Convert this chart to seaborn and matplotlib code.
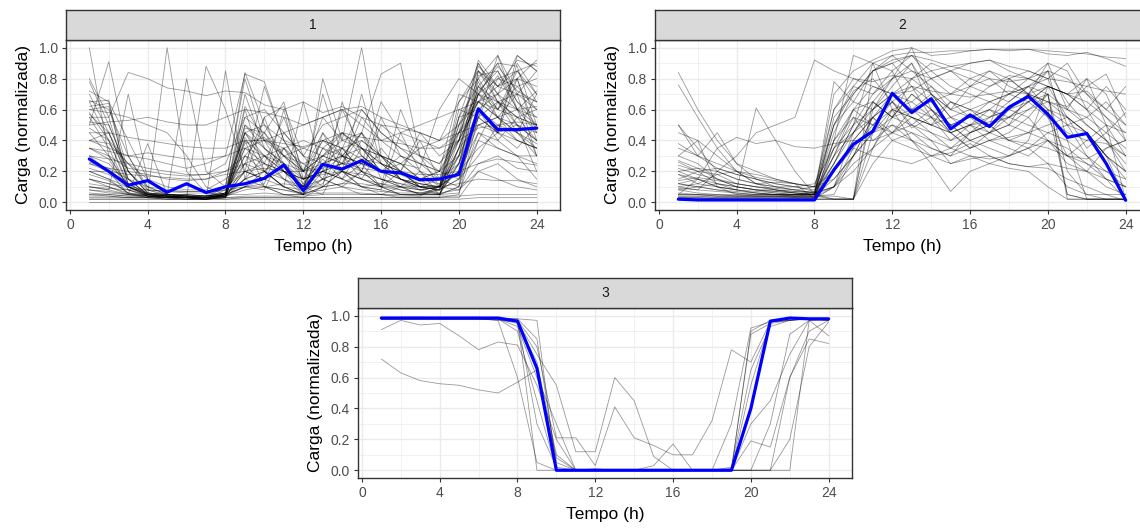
import matplotlib
matplotlib.use("Agg")
import matplotlib.pyplot as plt
import numpy as np
import pandas as pd
import seaborn as sns
from matplotlib.ticker import MultipleLocator

# ---------------- data ----------------
hours = list(range(1, 25))
x_ticks = [0, 4, 8, 12, 16, 20, 24]
y_ticks = [0.0, 0.2, 0.4, 0.6, 0.8, 1.0]
facet_labels = ["1", "2", "3"]
x_title = "Tempo (h)"
y_title = "Carga (normalizada)"

mean_1 = [0.28, 0.20, 0.11, 0.14, 0.065, 0.12, 0.063, 0.10, 0.12, 0.155, 0.24, 0.076,
          0.245, 0.215, 0.27, 0.20, 0.19, 0.145, 0.15, 0.18, 0.605, 0.47, 0.47, 0.48]
mean_2 = [0.02, 0.015, 0.015, 0.015, 0.015, 0.015, 0.015, 0.015, 0.21, 0.375, 0.46, 0.705,
          0.58, 0.67, 0.475, 0.565, 0.49, 0.615, 0.685, 0.57, 0.42, 0.445, 0.25, 0.013]
mean_3 = [0.985, 0.985, 0.985, 0.985, 0.985, 0.985, 0.985, 0.965, 0.66, 0.0, 0.0, 0.0,
          0.0, 0.0, 0.0, 0.0, 0.0, 0.0, 0.0, 0.40, 0.965, 0.985, 0.98, 0.98]

curves_1 = [
    [1.00,0.30,0.10,0.05,0.04,0.04,0.03,0.05,0.40,0.30,0.20,0.05,0.25,0.30,0.20,0.15,0.10,0.08,0.10,0.20,0.85,0.70,0.60,0.55],
    [0.65,0.66,0.10,0.04,0.03,0.03,0.02,0.05,0.45,0.30,0.15,0.05,0.20,0.15,0.35,0.20,0.15,0.10,0.05,0.30,0.75,0.60,0.80,0.45],
    [0.60,0.62,0.15,0.05,0.04,0.03,0.03,0.10,0.80,0.40,0.20,0.10,0.30,0.25,0.25,0.10,0.20,0.10,0.10,0.50,0.80,0.95,0.70,0.30],
    [0.78,0.50,0.20,0.06,0.04,0.03,0.02,0.04,0.10,0.20,0.10,0.05,0.10,0.65,0.30,0.20,0.10,0.05,0.05,0.10,0.60,0.45,0.90,0.70],
    [0.50,0.91,0.30,0.10,0.05,0.04,0.03,0.08,0.20,0.15,0.60,0.10,0.15,0.20,0.40,0.30,0.25,0.15,0.20,0.70,0.65,0.55,0.45,0.35],
    [0.55,0.55,0.84,0.80,0.74,0.72,0.69,0.72,0.71,0.63,0.60,0.65,0.58,0.62,0.55,0.50,0.48,0.45,0.40,0.45,0.50,0.55,0.60,0.62],
    [0.10,0.08,0.70,0.15,0.05,0.05,0.04,0.10,0.20,0.75,0.40,0.20,0.30,0.45,0.35,0.25,0.20,0.10,0.15,0.40,0.88,0.75,0.85,0.90],
    [0.20,0.15,0.10,0.05,1.00,0.20,0.06,0.05,0.15,0.20,0.10,0.05,0.10,0.20,0.15,0.10,0.05,0.04,0.10,0.35,0.70,0.90,0.65,0.50],
    [0.30,0.25,0.12,0.06,0.05,0.80,0.20,0.10,0.84,0.50,0.30,0.15,0.40,0.35,0.20,0.15,0.12,0.08,0.10,0.60,0.55,0.80,0.75,0.60],
    [0.15,0.10,0.05,0.04,0.03,0.03,0.88,0.60,0.20,0.15,0.10,0.65,0.20,0.15,0.10,0.08,0.05,0.05,0.08,0.20,0.50,0.45,0.95,0.85],
    [0.05,0.04,0.03,0.03,0.02,0.02,0.02,0.85,0.15,0.10,0.05,0.05,0.80,0.40,1.00,0.30,0.20,0.10,0.08,0.15,0.40,0.65,0.50,0.40],
    [0.40,0.35,0.30,0.28,0.25,0.22,0.25,0.30,0.83,0.78,0.40,0.35,0.30,0.40,0.45,0.83,0.90,0.30,0.25,0.45,0.60,0.70,0.80,0.75],
    [0.02,0.02,0.02,0.02,0.02,0.02,0.02,0.02,0.02,0.02,0.02,0.02,0.02,0.02,0.02,0.02,0.02,0.02,0.02,0.02,0.03,0.03,0.03,0.03],
    [0.04,0.04,0.03,0.03,0.03,0.03,0.03,0.03,0.04,0.04,0.04,0.04,0.05,0.05,0.05,0.05,0.04,0.04,0.04,0.04,0.05,0.05,0.05,0.05],
    [0.10,0.09,0.08,0.08,0.07,0.07,0.07,0.08,0.10,0.10,0.12,0.10,0.10,0.12,0.12,0.10,0.10,0.10,0.10,0.12,0.15,0.14,0.14,0.12],
    [0.20,0.20,0.18,0.17,0.16,0.15,0.15,0.18,0.20,0.22,0.20,0.20,0.22,0.25,0.22,0.20,0.20,0.18,0.18,0.20,0.25,0.28,0.26,0.24],
    [0.35,0.30,0.22,0.20,0.18,0.17,0.18,0.25,0.55,0.60,0.45,0.30,0.50,0.55,0.60,0.45,0.35,0.30,0.25,0.40,0.65,0.55,0.50,0.45],
    [0.50,0.52,0.53,0.55,0.52,0.50,0.50,0.55,0.60,0.58,0.55,0.50,0.55,0.60,0.62,0.55,0.50,0.45,0.40,0.50,0.70,0.80,0.85,0.70],
    [0.65,0.40,0.10,0.04,0.03,0.03,0.02,0.05,0.60,0.20,0.10,0.05,0.15,0.10,0.05,0.05,0.10,0.20,0.15,0.10,0.82,0.85,0.60,0.30],
    [0.62,0.64,0.20,0.06,0.05,0.04,0.03,0.06,0.45,0.25,0.55,0.20,0.45,0.30,0.15,0.35,0.20,0.15,0.05,0.25,0.75,0.90,0.88,0.50],
    [0.25,0.20,0.05,0.03,0.02,0.02,0.02,0.03,0.40,0.10,0.05,0.03,0.10,0.20,0.10,0.05,0.03,0.03,0.03,0.55,0.90,0.70,0.50,0.20],
    [0.55,0.35,0.08,0.04,0.03,0.03,0.02,0.04,0.70,0.35,0.25,0.10,0.35,0.45,0.30,0.20,0.15,0.08,0.10,0.65,0.80,0.60,0.75,0.80],
    [0.18,0.14,0.06,0.04,0.04,0.03,0.03,0.05,0.15,0.30,0.20,0.15,0.20,0.25,0.55,0.40,0.30,0.25,0.20,0.15,0.30,0.50,0.40,0.35],
    [0.08,0.06,0.05,0.38,0.05,0.04,0.04,0.05,0.10,0.08,0.35,0.20,0.10,0.12,0.20,0.10,0.60,0.30,0.10,0.08,0.20,0.25,0.15,0.10],
    [0.45,0.45,0.42,0.40,0.38,0.36,0.35,0.35,0.40,0.40,0.38,0.36,0.40,0.45,0.42,0.40,0.38,0.35,0.35,0.40,0.48,0.50,0.52,0.50],
    [0.30,0.28,0.25,0.22,0.20,0.18,0.18,0.20,0.25,0.30,0.25,0.20,0.30,0.35,0.40,0.30,0.25,0.22,0.60,0.80,0.70,0.65,0.55,0.50],
    [0.12,0.10,0.06,0.05,0.05,0.05,0.04,0.06,0.30,0.45,0.65,0.15,0.20,0.60,0.35,0.25,0.15,0.10,0.08,0.15,0.55,0.65,0.70,0.65],
    [0.60,0.58,0.55,0.50,0.45,0.30,0.10,0.05,0.10,0.15,0.20,0.15,0.25,0.20,0.15,0.12,0.10,0.08,0.05,0.10,0.45,0.35,0.30,0.25],
    [0.22,0.18,0.10,0.05,0.03,0.03,0.03,0.04,0.20,0.15,0.25,0.10,0.70,0.30,0.25,0.65,0.45,0.40,0.35,0.45,0.65,0.75,0.92,0.88],
    [0.70,0.45,0.15,0.05,0.04,0.03,0.03,0.04,0.55,0.45,0.30,0.20,0.40,0.35,0.28,0.25,0.20,0.15,0.12,0.30,0.85,0.65,0.55,0.40],
    [0.05,0.05,0.04,0.04,0.04,0.04,0.04,0.05,0.05,0.06,0.05,0.05,0.06,0.06,0.06,0.05,0.05,0.05,0.05,0.06,0.40,0.35,0.30,0.30],
    [0.35,0.33,0.30,0.32,0.30,0.28,0.28,0.30,0.35,0.40,0.45,0.50,0.55,0.60,0.50,0.40,0.45,0.50,0.55,0.60,0.65,0.60,0.55,0.50],
    [0.15,0.12,0.08,0.05,0.04,0.04,0.04,0.06,0.35,0.25,0.20,0.10,0.25,0.20,0.70,0.25,0.15,0.12,0.10,0.25,0.60,0.40,0.30,0.15],
    [0.48,0.40,0.12,0.05,0.04,0.03,0.03,0.05,0.50,0.40,0.35,0.25,0.30,0.25,0.20,0.50,0.40,0.30,0.20,0.45,0.72,0.85,0.65,0.55],
    [0.08,0.07,0.05,0.05,0.04,0.04,0.04,0.06,0.15,0.20,0.30,0.35,0.40,0.30,0.25,0.20,0.15,0.12,0.10,0.35,0.50,0.55,0.40,0.35],
    [0.26,0.22,0.15,0.10,0.08,0.07,0.07,0.10,0.45,0.35,0.25,0.15,0.20,0.30,0.45,0.25,0.20,0.40,0.15,0.25,0.70,0.55,0.45,0.70],
    [0.03,0.03,0.03,0.03,0.03,0.03,0.03,0.03,0.03,0.03,0.03,0.03,0.03,0.03,0.03,0.03,0.03,0.03,0.03,0.03,0.20,0.15,0.10,0.08],
    [0.40,0.38,0.25,0.15,0.10,0.08,0.08,0.15,0.25,0.55,0.62,0.30,0.25,0.35,0.60,0.45,0.35,0.25,0.20,0.30,0.55,0.45,0.80,0.92],
    [0.57,0.45,0.20,0.06,0.04,0.04,0.03,0.05,0.30,0.20,0.10,0.08,0.15,0.20,0.15,0.10,0.08,0.06,0.08,0.45,0.90,0.65,0.45,0.38],
    [0.00,0.00,0.00,0.00,0.00,0.00,0.00,0.00,0.00,0.00,0.00,0.00,0.00,0.00,0.00,0.00,0.00,0.00,0.00,0.00,0.00,0.00,0.00,0.00],
    [0.66,0.60,0.30,0.08,0.04,0.03,0.02,0.03,0.42,0.20,0.15,0.08,0.12,0.35,0.20,0.10,0.05,0.05,0.05,0.35,0.78,0.55,0.70,0.60],
    [0.45,0.30,0.10,0.05,0.03,0.03,0.02,0.04,0.48,0.45,0.25,0.12,0.28,0.15,0.25,0.30,0.15,0.10,0.08,0.50,0.65,0.82,0.60,0.45],
    [0.35,0.28,0.08,0.04,0.03,0.02,0.02,0.03,0.25,0.10,0.08,0.05,0.45,0.20,0.10,0.08,0.45,0.20,0.05,0.35,0.70,0.60,0.85,0.65],
    [0.20,0.15,0.06,0.03,0.03,0.02,0.02,0.03,0.15,0.55,0.20,0.10,0.05,0.30,0.45,0.15,0.10,0.05,0.10,0.55,0.60,0.45,0.35,0.50],
    [0.72,0.65,0.40,0.15,0.05,0.03,0.02,0.04,0.35,0.30,0.35,0.15,0.20,0.25,0.30,0.20,0.25,0.15,0.20,0.40,0.92,0.75,0.80,0.40],
    [0.10,0.08,0.05,0.04,0.03,0.03,0.03,0.05,0.10,0.12,0.45,0.30,0.15,0.10,0.20,0.55,0.30,0.20,0.10,0.20,0.45,0.40,0.55,0.60],
    [0.30,0.20,0.10,0.06,0.05,0.05,0.04,0.06,0.62,0.40,0.30,0.25,0.15,0.45,0.35,0.30,0.20,0.45,0.30,0.40,0.65,0.70,0.95,0.85],
    [0.52,0.50,0.20,0.08,0.05,0.04,0.03,0.04,0.20,0.25,0.15,0.10,0.20,0.15,0.10,0.12,0.08,0.06,0.05,0.25,0.55,0.95,0.60,0.50],
    [0.06,0.05,0.04,0.04,0.03,0.03,0.03,0.04,0.08,0.10,0.08,0.06,0.08,0.10,0.08,0.07,0.06,0.06,0.06,0.08,0.25,0.30,0.22,0.20],
    [0.15,0.12,0.10,0.08,0.07,0.06,0.06,0.08,0.25,0.20,0.35,0.40,0.35,0.30,0.35,0.30,0.25,0.35,0.40,0.65,0.85,0.75,0.70,0.85],
    [0.40,0.45,0.15,0.05,0.04,0.03,0.03,0.05,0.45,0.50,0.40,0.20,0.55,0.40,0.35,0.20,0.30,0.25,0.15,0.55,0.75,0.65,0.60,0.72],
    [0.25,0.22,0.20,0.18,0.15,0.14,0.15,0.20,0.30,0.25,0.20,0.15,0.18,0.20,0.18,0.15,0.12,0.10,0.10,0.20,0.35,0.45,0.50,0.40],
    [0.80,0.55,0.12,0.05,0.04,0.03,0.03,0.05,0.50,0.35,0.20,0.10,0.35,0.25,0.45,0.30,0.15,0.10,0.08,0.40,0.70,0.88,0.72,0.65],
    [0.02,0.02,0.02,0.02,0.02,0.02,0.02,0.02,0.03,0.03,0.03,0.03,0.03,0.03,0.03,0.03,0.03,0.03,0.03,0.05,0.55,0.45,0.40,0.35],
    [0.58,0.40,0.25,0.10,0.05,0.04,0.03,0.04,0.38,0.42,0.30,0.20,0.25,0.30,0.25,0.20,0.18,0.12,0.10,0.30,0.60,0.50,0.45,0.30],
]

curves_2 = [
    [0.84,0.60,0.40,0.25,0.15,0.10,0.08,0.10,0.50,0.75,0.90,0.95,0.85,0.80,0.70,0.75,0.80,0.70,0.75,0.60,0.50,0.45,0.30,0.02],
    [0.76,0.55,0.35,0.20,0.12,0.08,0.06,0.05,0.70,0.85,0.92,0.98,1.00,0.95,0.96,0.98,0.99,0.98,0.99,0.96,0.95,0.97,0.93,0.88],
    [0.50,0.30,0.45,0.25,0.20,0.15,0.12,0.02,0.02,0.02,0.60,0.80,0.90,0.70,0.60,0.75,0.85,0.80,0.70,0.90,0.60,0.80,0.50,0.30],
    [0.05,0.15,0.35,0.42,0.38,0.40,0.36,0.35,0.38,0.40,0.40,0.45,0.55,0.50,0.45,0.50,0.52,0.55,0.60,0.65,0.60,0.55,0.45,0.35],
    [0.10,0.08,0.20,0.30,0.45,0.50,0.55,0.92,0.85,0.80,0.78,0.82,0.80,0.85,0.88,0.90,0.92,0.88,0.85,0.80,0.78,0.75,0.72,0.70],
    [0.20,0.15,0.10,0.08,0.61,0.40,0.20,0.05,0.10,0.30,0.55,0.65,0.50,0.45,0.40,0.45,0.50,0.55,0.50,0.45,0.40,0.30,0.20,0.10],
    [0.26,0.20,0.12,0.08,0.06,0.05,0.05,0.05,0.78,0.65,0.60,0.70,0.75,0.55,0.40,0.50,0.60,0.55,0.65,0.70,0.05,0.02,0.02,0.02],
    [0.12,0.10,0.08,0.06,0.05,0.05,0.04,0.04,0.04,0.02,0.85,0.90,0.95,0.80,0.85,0.90,0.92,0.85,0.80,0.75,0.70,0.80,0.70,0.40],
    [0.03,0.03,0.02,0.02,0.02,0.02,0.02,0.02,0.02,0.02,0.25,0.40,0.45,0.35,0.30,0.35,0.40,0.42,0.45,0.40,0.30,0.20,0.10,0.05],
    [0.02,0.02,0.02,0.02,0.02,0.02,0.02,0.02,0.35,0.50,0.60,0.70,0.65,0.75,0.60,0.55,0.45,0.50,0.70,0.85,0.40,0.02,0.02,0.02],
    [0.38,0.30,0.22,0.18,0.15,0.12,0.10,0.08,0.40,0.95,0.90,0.60,0.55,0.50,0.45,0.50,0.55,0.60,0.65,0.55,0.30,0.25,0.20,0.15],
    [0.05,0.05,0.04,0.04,0.04,0.04,0.04,0.05,0.20,0.40,0.55,0.45,0.50,0.40,0.25,0.28,0.30,0.25,0.23,0.25,0.22,0.20,0.15,0.10],
    [0.15,0.20,0.18,0.12,0.10,0.08,0.06,0.05,0.30,0.60,0.75,0.70,0.80,0.90,0.85,0.75,0.70,0.65,0.75,0.85,0.80,0.70,0.60,0.50],
    [0.45,0.40,0.10,0.05,0.04,0.04,0.03,0.03,0.10,0.20,0.35,0.55,0.60,0.65,0.50,0.40,0.45,0.60,0.55,0.40,0.25,0.20,0.35,0.40],
    [0.08,0.06,0.05,0.05,0.05,0.05,0.05,0.06,0.45,0.70,0.85,0.92,0.95,0.92,0.88,0.85,0.80,0.78,0.80,0.85,0.65,0.50,0.40,0.30],
    [0.20,0.22,0.20,0.15,0.12,0.13,0.12,0.10,0.15,0.30,0.45,0.50,0.40,0.35,0.30,0.45,0.55,0.60,0.70,0.65,0.62,0.75,0.83,0.55],
    [0.30,0.25,0.15,0.10,0.08,0.07,0.06,0.06,0.50,0.72,0.80,0.65,0.55,0.45,0.35,0.40,0.35,0.30,0.40,0.75,0.55,0.45,0.30,0.20],
    [0.12,0.10,0.08,0.07,0.06,0.05,0.05,0.05,0.25,0.45,0.65,0.80,1.00,0.70,0.55,0.60,0.65,0.70,0.75,0.80,0.90,0.70,0.55,0.40],
    [0.02,0.02,0.02,0.02,0.02,0.02,0.02,0.02,0.02,0.02,0.65,0.55,0.70,0.60,0.50,0.40,0.45,0.50,0.60,0.70,0.02,0.02,0.02,0.02],
    [0.22,0.18,0.15,0.12,0.10,0.08,0.07,0.06,0.10,0.35,0.50,0.60,0.40,0.25,0.07,0.20,0.25,0.30,0.35,0.25,0.10,0.05,0.05,0.05],
    [0.10,0.12,0.18,0.20,0.16,0.14,0.12,0.10,0.60,0.80,0.75,0.70,0.72,0.80,0.85,0.80,0.75,0.82,0.80,0.75,0.70,0.72,0.60,0.75],
    [0.06,0.05,0.05,0.04,0.04,0.04,0.04,0.04,0.15,0.30,0.45,0.60,0.65,0.55,0.50,0.55,0.60,0.50,0.45,0.50,0.55,0.35,0.45,0.58],
    [0.35,0.30,0.25,0.20,0.18,0.15,0.12,0.10,0.20,0.40,0.55,0.40,0.35,0.30,0.25,0.30,0.25,0.22,0.20,0.10,0.02,0.02,0.02,0.02],
    [0.18,0.15,0.12,0.10,0.08,0.07,0.06,0.05,0.50,0.65,0.85,0.95,0.97,0.97,0.98,0.98,0.99,0.99,0.99,0.98,0.97,0.96,0.94,0.93],
    [0.04,0.04,0.03,0.03,0.03,0.03,0.03,0.03,0.40,0.55,0.50,0.45,0.60,0.70,0.55,0.45,0.50,0.80,0.70,0.55,0.45,0.40,0.38,0.30],
    [0.27,0.22,0.15,0.10,0.08,0.06,0.05,0.05,0.30,0.45,0.60,0.75,0.90,0.60,0.45,0.35,0.45,0.55,0.65,0.75,0.70,0.60,0.75,0.60],
    [0.14,0.16,0.14,0.12,0.10,0.09,0.08,0.06,0.35,0.60,0.50,0.65,0.48,0.55,0.65,0.60,0.50,0.40,0.45,0.60,0.55,0.45,0.30,0.20],
    [0.02,0.02,0.02,0.02,0.02,0.02,0.02,0.02,0.10,0.25,0.35,0.45,0.40,0.30,0.32,0.38,0.30,0.25,0.23,0.22,0.15,0.10,0.05,0.01],
    [0.09,0.08,0.07,0.06,0.05,0.05,0.05,0.05,0.02,0.02,0.45,0.55,0.80,0.70,0.60,0.65,0.75,0.80,0.85,0.80,0.50,0.30,0.15,0.02],
    [0.24,0.20,0.22,0.18,0.15,0.12,0.10,0.07,0.25,0.50,0.90,0.85,0.60,0.50,0.55,0.50,0.45,0.40,0.38,0.35,0.30,0.40,0.50,0.45],
    [0.02,0.02,0.02,0.02,0.02,0.02,0.02,0.02,0.55,0.70,0.85,0.90,0.75,0.65,0.70,0.80,0.85,0.75,0.70,0.60,0.05,0.02,0.02,0.02],
    [0.12,0.15,0.10,0.08,0.06,0.05,0.04,0.04,0.05,0.30,0.55,0.70,0.60,0.55,0.45,0.50,0.40,0.45,0.55,0.70,0.60,0.50,0.40,0.25],
    [0.03,0.03,0.03,0.03,0.03,0.03,0.03,0.03,0.25,0.50,0.70,0.85,0.95,0.85,0.75,0.70,0.65,0.70,0.80,0.90,0.85,0.60,0.40,0.20],
    [0.30,0.40,0.30,0.20,0.12,0.10,0.08,0.06,0.10,0.45,0.65,0.55,0.50,0.60,0.45,0.35,0.40,0.35,0.30,0.40,0.35,0.25,0.15,0.10],
    [0.05,0.05,0.04,0.04,0.04,0.04,0.04,0.04,0.02,0.02,0.35,0.60,0.55,0.50,0.65,0.55,0.60,0.70,0.65,0.75,0.70,0.65,0.55,0.45],
    [0.18,0.12,0.10,0.08,0.07,0.06,0.05,0.05,0.60,0.75,0.70,0.80,0.85,0.75,0.65,0.60,0.55,0.65,0.75,0.70,0.20,0.05,0.02,0.02],
    [0.08,0.10,0.12,0.10,0.08,0.08,0.07,0.07,0.30,0.55,0.40,0.50,0.45,0.40,0.35,0.45,0.50,0.40,0.35,0.45,0.50,0.55,0.65,0.50],
    [0.02,0.02,0.02,0.02,0.02,0.02,0.02,0.02,0.40,0.60,0.65,0.55,0.70,0.60,0.50,0.55,0.65,0.60,0.70,0.75,0.70,0.60,0.50,0.02],
    [0.50,0.35,0.20,0.15,0.12,0.10,0.10,0.12,0.35,0.45,0.55,0.65,0.75,0.72,0.70,0.68,0.70,0.72,0.70,0.65,0.55,0.45,0.30,0.15],
    [0.04,0.04,0.04,0.04,0.04,0.04,0.04,0.04,0.20,0.35,0.30,0.28,0.25,0.30,0.35,0.30,0.28,0.30,0.35,0.40,0.30,0.28,0.35,0.40],
]

curves_3 = [
    [0.98,0.98,0.98,0.98,0.98,0.98,0.98,0.97,0.00,0.00,0.00,0.00,0.00,0.00,0.00,0.00,0.00,0.00,0.00,0.00,0.00,0.00,0.97,0.98],
    [0.98,0.99,0.99,0.99,0.99,0.99,0.98,0.98,0.97,0.00,0.00,0.00,0.00,0.00,0.00,0.00,0.00,0.00,0.00,0.90,0.97,0.98,0.98,0.98],
    [0.91,0.97,0.94,0.95,0.87,0.78,0.83,0.81,0.55,0.20,0.00,0.01,0.00,0.00,0.00,0.00,0.00,0.00,0.01,0.88,0.95,0.97,0.98,0.97],
    [0.72,0.63,0.58,0.56,0.55,0.52,0.50,0.57,0.65,0.08,0.00,0.00,0.00,0.00,0.00,0.00,0.00,0.00,0.00,0.55,0.96,0.97,0.98,0.98],
    [0.98,0.98,0.98,0.98,0.98,0.98,0.97,0.96,0.75,0.55,0.12,0.12,0.60,0.45,0.09,0.00,0.00,0.00,0.00,0.19,0.15,0.60,0.90,0.97],
    [0.99,0.99,0.99,0.98,0.98,0.98,0.98,0.97,0.80,0.21,0.21,0.03,0.41,0.21,0.16,0.10,0.10,0.32,0.78,0.70,0.96,0.98,0.98,0.97],
    [0.98,0.98,0.98,0.98,0.98,0.98,0.97,0.60,0.05,0.00,0.00,0.00,0.00,0.00,0.03,0.17,0.00,0.00,0.00,0.00,0.30,0.88,0.97,0.97],
    [0.98,0.98,0.98,0.98,0.98,0.98,0.98,0.90,0.45,0.00,0.00,0.00,0.00,0.00,0.00,0.00,0.00,0.00,0.00,0.00,0.00,0.20,0.80,0.96],
    [0.98,0.98,0.98,0.98,0.98,0.98,0.98,0.97,0.30,0.02,0.00,0.00,0.00,0.00,0.00,0.00,0.00,0.00,0.00,0.00,0.00,0.60,0.85,0.82],
    [0.98,0.98,0.98,0.98,0.98,0.98,0.98,0.95,0.70,0.10,0.00,0.00,0.00,0.00,0.00,0.00,0.00,0.00,0.02,0.65,0.93,0.97,0.98,0.98],
    [0.98,0.98,0.98,0.98,0.98,0.98,0.98,0.93,0.60,0.30,0.00,0.00,0.00,0.00,0.00,0.00,0.00,0.00,0.00,0.30,0.45,0.75,0.97,0.87],
    [0.98,0.98,0.98,0.98,0.98,0.98,0.98,0.98,0.85,0.05,0.00,0.00,0.00,0.00,0.00,0.00,0.00,0.00,0.30,0.92,0.96,0.97,0.98,0.98],
]

# ---------------- style ----------------
sns.set_theme(style="white")
plt.rcParams["font.family"] = ["Liberation Sans", "DejaVu Sans"]

W, H = 1140, 529
fig = plt.figure(figsize=(W / 100, H / 100), dpi=100)
fig.patch.set_facecolor("white")

PANEL_W = 494


def px_axes(left, top, right, bottom):
    return fig.add_axes([left / W, 1 - bottom / H, (right - left) / W, (bottom - top) / H])


def to_long(curves):
    rows = []
    for i, vals in enumerate(curves):
        for h, v in zip(hours, vals):
            rows.append((i, h, v))
    return pd.DataFrame(rows, columns=["id", "hora", "carga"])


def draw_panel(left, strip_top, top, bottom, curves, mean, label):
    ax = px_axes(left, top, left + PANEL_W, bottom)
    df = to_long(curves)
    sns.lineplot(data=df, x="hora", y="carga", units="id", estimator=None,
                 color="black", alpha=0.4, linewidth=0.6, ax=ax, legend=False)
    sns.lineplot(x=hours, y=mean, color="#0000FF", linewidth=2.3, ax=ax)

    ax.set_xlim(-0.2, 25.2)
    ax.set_ylim(-0.05, 1.05)
    ax.set_xticks(x_ticks)
    ax.set_xticklabels([str(t) for t in x_ticks])
    ax.set_yticks(y_ticks)
    ax.set_yticklabels([f"{t:.1f}" for t in y_ticks])
    ax.xaxis.set_minor_locator(MultipleLocator(2))
    ax.yaxis.set_minor_locator(MultipleLocator(0.1))
    ax.set_axisbelow(True)
    ax.grid(which="major", color="#EBEBEB", linewidth=1.0)
    ax.grid(which="minor", color="#EBEBEB", linewidth=0.5)
    ax.tick_params(which="major", bottom=True, left=True, length=3.0, width=0.8,
                   color="#333333", labelcolor="#4D4D4D", labelsize=10, pad=3)
    ax.tick_params(which="minor", bottom=False, left=False, length=0)
    for s in ax.spines.values():
        s.set_color("#333333")
        s.set_linewidth(1.0)
    ax.set_xlabel(x_title, fontsize=12.5, color="black", labelpad=4.5)
    ax.set_ylabel(y_title, fontsize=12.5, color="black", labelpad=5)

    sax = px_axes(left, strip_top, left + PANEL_W, top)
    sax.set_facecolor("#D9D9D9")
    sax.set_xticks([])
    sax.set_yticks([])
    for s in sax.spines.values():
        s.set_color("#333333")
        s.set_linewidth(1.0)
    sax.text(0.5, 0.5, label, ha="center", va="center", fontsize=10,
             color="#1A1A1A", transform=sax.transAxes)
    return ax


draw_panel(66, 10, 40, 210, curves_1, mean_1, facet_labels[0])
draw_panel(655, 10, 40, 210, curves_2, mean_2, facet_labels[1])
draw_panel(358, 278, 308, 478, curves_3, mean_3, facet_labels[2])

fig.savefig("out.png", dpi=100)
